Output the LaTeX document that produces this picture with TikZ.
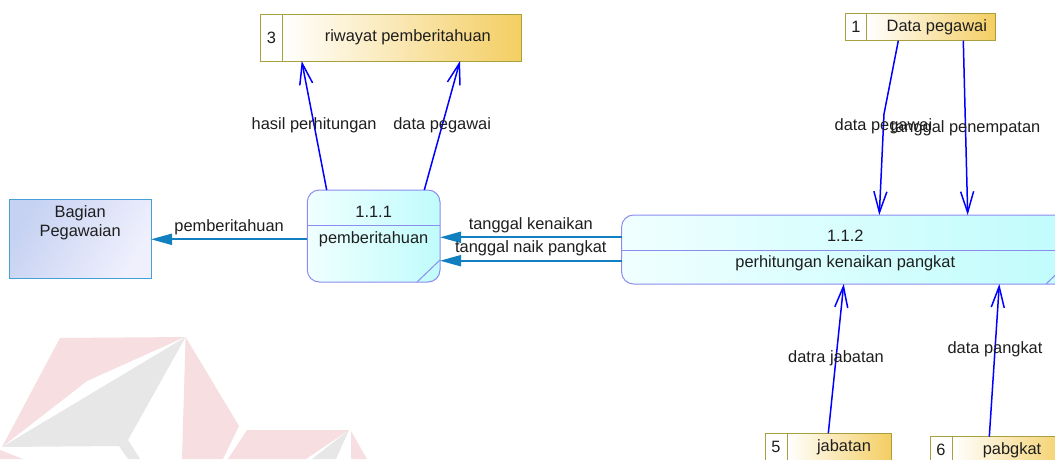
\documentclass[tikz,border=0pt]{standalone}
\usepackage{fontspec}
\setmainfont{Liberation Sans}
\usepackage{tikz}
\usetikzlibrary{arrows.meta}
\usetikzlibrary{positioning}

\definecolor{flowblue}{RGB}{16,128,192}
\definecolor{dataline}{RGB}{0,0,255}
\definecolor{procedge}{RGB}{140,140,240}
\definecolor{proclight}{RGB}{240,255,255}
\definecolor{procdark}{RGB}{192,252,252}
\definecolor{entedge}{RGB}{70,160,215}
\definecolor{entdark}{RGB}{198,210,242}
\definecolor{entlight}{RGB}{240,240,253}
\definecolor{storeedge}{RGB}{168,160,60}
\definecolor{storegold}{RGB}{244,206,98}
\definecolor{markpink}{RGB}{246,222,225}
\definecolor{markgrey}{RGB}{231,231,231}
\definecolor{inktext}{RGB}{30,30,30}

\begin{document}
\begin{tikzpicture}
        [ x=1pt, y=-1pt
        , every node/.style={font=\fontsize{16.4}{19}\selectfont, text=inktext}
        , process/.style={draw=procedge, line width=1pt, rounded corners=12pt, left color=proclight, right color=procdark, inner sep=0pt, outer sep=0pt}
        , procline/.style={draw=procedge, line width=1pt}
        , entity/.style={draw=entedge, line width=1pt, left color=entdark, right color=entlight, shading angle=60, inner sep=0pt, outer sep=0pt}
        , storeid/.style={draw=storeedge, line width=1pt, fill=white, inner sep=0pt, outer sep=0pt, anchor=north west}
        , storebody/.style={draw=storeedge, line width=1pt, left color=white, right color=storegold, inner sep=0pt, outer sep=0pt}
        , flow/.style={flowblue, line width=2pt, -{Triangle[length=21pt,width=11pt]}}
        , dataflow/.style={dataline, line width=1.5pt, -{Straight Barb[length=21pt,width=13pt]}}
        ]
        \useasboundingbox (0,0) rectangle (1055,459);
        \clip (0,0) rectangle (1055,459);
        \fill[white] (0,0) rectangle (1055,459);

        % watermark in the corner
        \fill[markpink] (60,338) -- (185,337) -- (87,381) -- (2,447) -- cycle;
        \fill[markgrey] (2,447) -- (185.6,337) -- (128,440) -- (119,446) -- cycle;
        \fill[markgrey] (119,446) -- (128,440) -- (140,459) -- (128,459) -- cycle;
        \fill[markpink] (0,450) -- (23,459) -- (0,459) -- cycle;
        \fill[markpink] (185.6,337) -- (239,426) -- (223,459) -- (182,459) -- cycle;
        \fill[markpink] (247,430) -- (349,430) -- (306,459) -- (228,459) -- cycle;
        \fill[markgrey] (349,430) -- (336,459) -- (312,459) -- cycle;
        \fill[markpink] (351,431) -- (367,459) -- (351,459) -- cycle;

        % data stores
        \node[storeid, minimum width=21.3pt, minimum height=47pt] (s3id) at (260.7,14) {3};
        \node[storebody, right=0pt of s3id, minimum width=239.7pt, minimum height=47pt] (s3) {\hspace*{12pt}riwayat pemberitahuan};
        \node[storeid, minimum width=21.7pt, minimum height=27.4pt] (s1id) at (845,13.3) {1};
        \node[storebody, right=0pt of s1id, minimum width=128.3pt, minimum height=27.4pt] (s1) {\hspace*{12pt}Data pegawai};
        \node[storeid, minimum width=22pt, minimum height=27pt] (s5id) at (765,433.3) {5};
        \node[storebody, right=0pt of s5id, minimum width=104pt, minimum height=27pt] (s5) {\hspace*{10pt}jabatan};
        \node[storeid, minimum width=22pt, minimum height=27pt] (s6id) at (930,436.7) {6};
        \node[storebody, right=0pt of s6id, minimum width=120pt, minimum height=27pt] (s6) {pabgkat};

        % external entity
        \node[entity, minimum width=141.7pt, minimum height=79pt, anchor=north west] (bag) at (9.3,199) {};
        \node[align=center, inner sep=0pt, below=6pt of bag.north] (baglabel) {Bagian\\Pegawaian};

        % processes
        \node[process, minimum width=132.7pt, minimum height=92pt, anchor=north west] (p111) at (307.3,190) {};
        \draw[procline] (p111.west |- 0,225.7) -- (p111.east |- 0,225.7);
        \draw[procline] ([xshift=-23pt]p111.south east) -- ([yshift=22pt]p111.south east);
        \node (p111num) at (p111.north |- 0,212) {1.1.1};
        \node (p111name) at (p111.north |- 0,239) {pemberitahuan};

        \node[process, minimum width=447.4pt, minimum height=69pt, anchor=north west] (p112) at (621.6,215) {};
        \draw[procline] (p112.west |- 0,250) -- (p112.east |- 0,250);
        \draw[procline] ([xshift=-23pt]p112.south east) -- ([yshift=22pt]p112.south east);
        \node (p112num) at (p112.north |- 0,236) {1.1.2};
        \node (p112name) at (p112.north |- 0,263) {perhitungan kenaikan pangkat};

        % flows between processes and entity
        \draw[flow] (p112.west |- 0,237.3) -- node[above] (lbltk) {tanggal kenaikan} (p111.east |- 0,237.3);
        \draw[flow] (p112.west |- 0,260.7) -- node[above] (lbltnp) {tanggal naik pangkat} (p111.east |- 0,260.7);
        \draw[flow] (p111.west |- 0,239.3) -- node[above] (lblpb) {pemberitahuan} (bag.east |- 0,239.3);

        % flows to and from the stores
        \draw[dataflow] (p111.north -| 326.7,0) -- node (lblhp) {hasil perhitungan} (s3.south -| 301.7,0);
        \draw[dataflow] (p111.north -| 424.3,0) -- node (lbldp) {data pegawai} (s3.south -| 460,0);
        \coordinate (knik) at (884,114);
        \draw[dataflow] (s1.south -| 898.3,0) -- (knik) -- node[pos=0.12] (lbldpg) {data pegawai} (p112.north -| 879.3,0);
        \draw[dataflow] (s1.south -| 963.3,0) -- node (lbltp) {tanggal penempatan} (p112.north -| 967.7,0);
        \draw[dataflow] (s5.north -| 828.3,0) -- node (lbldj) {datra jabatan} (p112.south -| 843.7,0);
        \draw[dataflow] (s6.north -| 989.3,0) -- node[pos=0.57] (lbldpk) {data pangkat} (p112.south -| 999.3,0);
\end{tikzpicture}
\end{document}
